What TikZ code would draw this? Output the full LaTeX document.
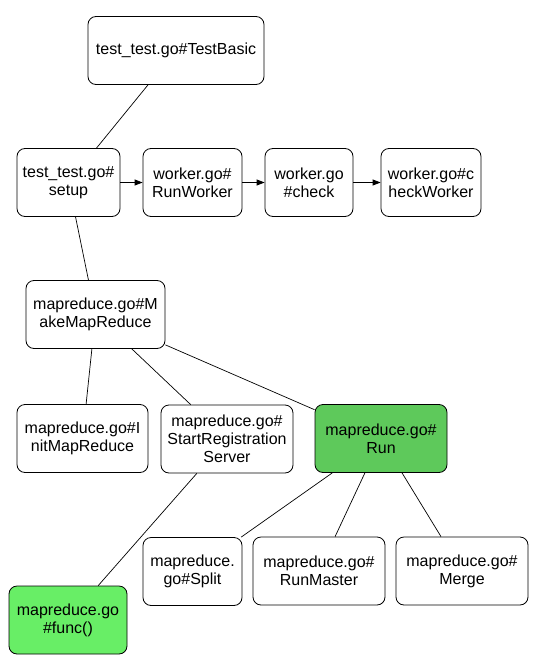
\documentclass[tikz,border=0pt]{standalone}
\usepackage{fontspec}
\setmainfont{Liberation Sans}
\usepackage{tikz}
\usetikzlibrary{arrows.meta}

\definecolor{rungreen}{HTML}{5EC95B}
\definecolor{funcgreen}{HTML}{68EE66}

\begin{document}
\begin{tikzpicture}[
    x=1pt, y=-1pt,
    every node/.style={font=\fontsize{16}{18}\selectfont},
    fn/.style={draw, rounded corners=8pt, inner sep=0pt, align=center, minimum height=68pt, line width=0.8pt},
    arr/.style={->, >={Triangle[length=8pt,width=6pt]}, line width=0.8pt},
    edge/.style={line width=0.7pt},
]
\useasboundingbox (0,0) rectangle (553,661);
% === Top: test entry ===
\node[fn, minimum width=176pt] (testbasic) at (176, 50.5) {test\_test.go\#TestBasic};
% Worker chain
\node[fn, minimum width=103pt] (setup) at (68.5, 182.5) {test\_test.go\#\\setup};
\node[fn, minimum width=99pt] (runworker) at (192.5, 182.5) {worker.go\#\\RunWorker};
\node[fn, minimum width=88pt] (check) at (309, 182.5) {worker.go\\\#check};
\node[fn, minimum width=100pt] (checkworker) at (431, 182.5) {worker.go\#c\\heckWorker};
% === Middle: mapreduce setup ===
\node[fn, minimum width=139pt] (makemr) at (95.5, 314.5) {mapreduce.go\#M\\akeMapReduce};
\node[fn, minimum width=131pt] (initmr) at (82.5, 438.5) {mapreduce.go\#I\\nitMapReduce};
\node[fn, minimum width=132pt] (startreg) at (227, 439) {mapreduce.go\#\\StartRegistration\\Server};
\node[fn, minimum width=132pt, fill=rungreen] (run) at (381, 438.5) {mapreduce.go\#\\Run};
% === Bottom: run steps ===
\node[fn, minimum width=99pt] (split) at (192.5, 571.5) {mapreduce.\\go\#Split};
\node[fn, minimum width=132pt] (runmaster) at (319, 571) {mapreduce.go\#\\RunMaster};
\node[fn, minimum width=132pt] (merge) at (462, 571) {mapreduce.go\#\\Merge};
\node[fn, minimum width=118pt, fill=funcgreen] (func) at (68, 620) {mapreduce.go\\\#func()};
% Calls
\draw[edge] (testbasic) -- (setup);
\draw[arr] (setup) -- (runworker);
\draw[arr] (runworker) -- (check);
\draw[arr] (check) -- (checkworker);
\draw[edge] (setup) -- (makemr);
\draw[edge] (makemr) -- (initmr);
\draw[edge] (makemr) -- (startreg);
\draw[edge] (makemr) -- (run);
\draw[edge] (startreg) -- (func);
\draw[edge] (run) -- (split);
\draw[edge] (run) -- (runmaster);
\draw[edge] (run) -- (merge);
\end{tikzpicture}
\end{document}
